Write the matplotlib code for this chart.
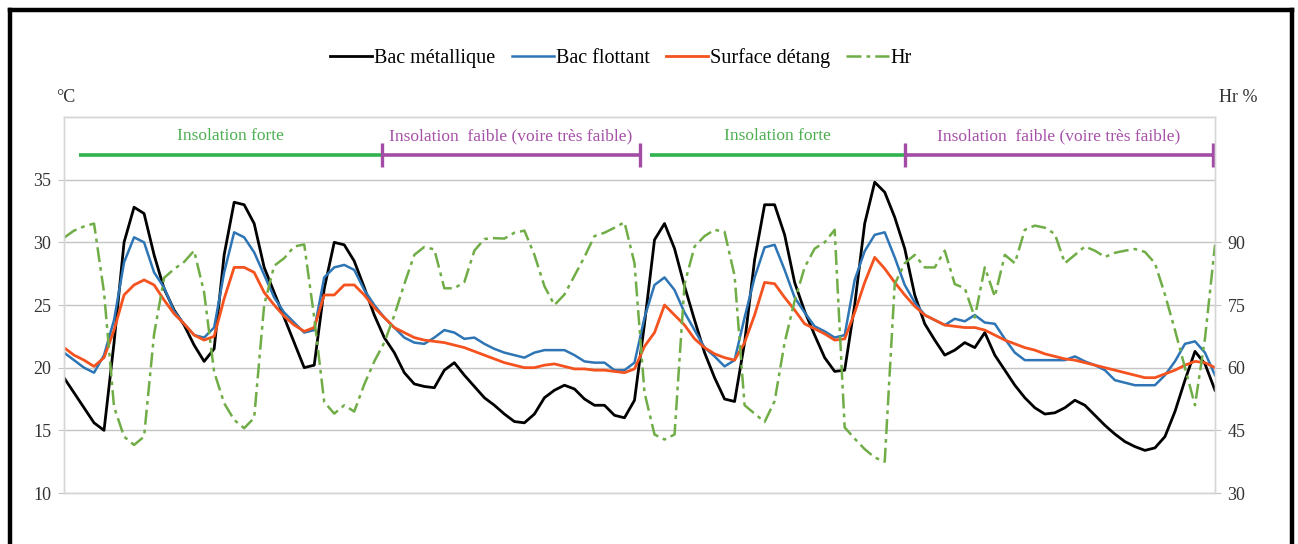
import numpy as np
import matplotlib
matplotlib.use("Agg")
import matplotlib.pyplot as plt
from matplotlib.lines import Line2D

plt.rcParams["font.family"] = ["Liberation Serif", "DejaVu Serif"]

# --- series, one sample every ~2.3 h (no x labels on the original) ---
bac_metal = [
    19.2, 18.0, 16.8, 15.6, 15.0, 22.0, 30.0, 32.8, 32.3, 29.0,
    26.3, 24.6, 23.4, 21.8, 20.5, 21.5, 29.0, 33.2, 33.0, 31.5,
    28.0, 26.0, 24.0, 22.0, 20.0, 20.2, 26.3, 30.0, 29.8, 28.5,
    26.4, 24.2, 22.4, 21.2, 19.6, 18.7, 18.5, 18.4, 19.8, 20.4,
    19.4, 18.5, 17.6, 17.0, 16.3, 15.7, 15.6, 16.3, 17.6, 18.2,
    18.6, 18.3, 17.5, 17.0, 17.0, 16.2, 16.0, 17.4, 23.5, 30.2,
    31.5, 29.5, 26.5, 23.8, 21.2, 19.2, 17.5, 17.3, 22.0, 28.6,
    33.0, 33.0, 30.6, 26.8, 24.5, 22.6, 20.8, 19.7, 19.8, 25.0,
    31.5, 34.8, 34.0, 32.0, 29.5, 25.8, 23.5, 22.2, 21.0, 21.4,
    22.0, 21.6, 22.8, 21.0, 19.8, 18.6, 17.6, 16.8, 16.3, 16.4,
    16.8, 17.4, 17.0, 16.2, 15.4, 14.7, 14.1, 13.7, 13.4, 13.6,
    14.5, 16.5, 19.0, 21.3, 20.3, 18.2,
]
bac_flottant = [
    21.2, 20.6, 20.0, 19.6, 21.0, 23.8, 28.4, 30.4, 30.0, 27.6,
    26.4, 24.5, 23.5, 22.6, 22.4, 23.2, 27.6, 30.8, 30.4, 29.2,
    27.4, 25.6, 24.4, 23.6, 22.8, 23.0, 27.2, 28.0, 28.2, 27.8,
    26.2, 25.0, 24.0, 23.2, 22.4, 22.0, 21.9, 22.4, 23.0, 22.8,
    22.3, 22.4, 21.9, 21.5, 21.2, 21.0, 20.8, 21.2, 21.4, 21.4,
    21.4, 21.0, 20.5, 20.4, 20.4, 19.8, 19.8, 20.4, 24.0, 26.6,
    27.2, 26.2, 24.4, 23.0, 21.6, 20.9, 20.1, 20.6, 24.0, 27.2,
    29.6, 29.8, 27.8, 25.6, 24.4, 23.3, 22.9, 22.4, 22.6, 27.0,
    29.3, 30.6, 30.8, 28.8, 26.6, 25.2, 24.2, 23.8, 23.4, 23.9,
    23.7, 24.2, 23.6, 23.5, 22.3, 21.2, 20.6, 20.6, 20.6, 20.6,
    20.6, 20.9, 20.5, 20.2, 19.8, 19.0, 18.8, 18.6, 18.6, 18.6,
    19.4, 20.5, 21.9, 22.1, 21.2, 19.4,
]
surface_etang = [
    21.6, 21.0, 20.6, 20.1, 20.8, 23.0, 25.8, 26.6, 27.0, 26.6,
    25.4, 24.3, 23.5, 22.6, 22.2, 22.5, 25.5, 28.0, 28.0, 27.6,
    26.0, 25.0, 24.1, 23.4, 22.9, 23.2, 25.8, 25.8, 26.6, 26.6,
    25.8, 24.8, 24.0, 23.2, 22.8, 22.4, 22.2, 22.1, 22.0, 21.8,
    21.6, 21.3, 21.0, 20.7, 20.4, 20.2, 20.0, 20.0, 20.2, 20.3,
    20.1, 19.9, 19.9, 19.8, 19.8, 19.7, 19.6, 19.9, 21.7, 22.8,
    25.0, 24.2, 23.4, 22.3, 21.6, 21.1, 20.8, 20.6, 22.0, 24.2,
    26.8, 26.7, 25.6, 24.6, 23.5, 23.1, 22.7, 22.2, 22.3, 24.4,
    26.8, 28.8, 27.9, 26.8, 25.8, 24.9, 24.2, 23.8, 23.4, 23.3,
    23.2, 23.2, 23.0, 22.6, 22.2, 21.9, 21.6, 21.4, 21.1, 20.9,
    20.7, 20.6, 20.4, 20.2, 20.0, 19.8, 19.6, 19.4, 19.2, 19.2,
    19.5, 19.8, 20.2, 20.5, 20.4, 20.0,
]
hr = [
    91.1, 92.8, 93.8, 94.5, 78.0, 50.6, 43.5, 41.5, 43.5, 68.0,
    81.5, 83.6, 85.3, 88.0, 78.0, 59.0, 51.5, 47.5, 45.5, 48.0,
    75.0, 84.4, 86.2, 89.0, 89.5, 72.0, 51.8, 49.0, 51.0, 49.5,
    56.0, 61.5, 66.0, 72.5, 80.0, 87.0, 88.9, 88.3, 79.0, 79.0,
    80.5, 88.0, 90.8, 91.0, 90.9, 92.3, 92.8, 87.0, 79.5, 75.0,
    77.5, 82.0, 86.5, 91.5, 92.3, 93.5, 94.8, 85.0, 54.0, 44.0,
    42.8, 44.0, 80.0, 89.0, 91.5, 93.0, 92.5, 82.0, 51.0, 49.0,
    47.0, 52.0, 66.0, 76.0, 84.0, 88.5, 90.0, 93.0, 45.7, 43.0,
    40.5, 38.5, 37.5, 80.0, 85.0, 87.0, 84.0, 84.0, 88.0, 80.0,
    79.0, 72.0, 84.0, 77.0, 87.0, 85.0, 93.0, 94.0, 93.5, 92.0,
    85.0, 87.0, 89.0, 88.0, 86.5, 87.5, 88.0, 88.4, 87.7, 85.0,
    77.5, 69.0, 60.0, 51.0, 67.0, 89.4,
]

# insolation periods (sample index)
period_labels = ["Insolation forte", "Insolation  faible (voire très faible)",
                 "Insolation forte", "Insolation  faible (voire très faible)"]
period_start = [1.5, 31.8, 58.5, 84.0]
period_end = [31.8, 57.5, 84.0, 114.8]
period_kind = ["forte", "faible", "forte", "faible"]

t_ticks = [10, 15, 20, 25, 30, 35]
hr_ticks = [30, 45, 60, 75, 90]

C_BLACK, C_BLUE, C_ORANGE, C_HR = "#000000", "#2e75b6", "#f4521f", "#70ad47"
C_FORTE, C_FAIBLE = "#2fb34f", "#a24ca6"
GRID = "#c4c4c4"

x = np.arange(len(bac_metal))

fig = plt.figure(figsize=(12.98, 5.44), dpi=100)
ax = fig.add_axes([64 / 1298, 1 - 493 / 544, 1151 / 1298, 376 / 544])
ax2 = ax.twinx()

l1, = ax.plot(x, bac_metal, color=C_BLACK, lw=2.0, label="Bac métallique")
l2, = ax.plot(x, bac_flottant, color=C_BLUE, lw=1.8, label="Bac flottant")
l3, = ax.plot(x, surface_etang, color=C_ORANGE, lw=2.0, label="Surface détang")
l4, = ax2.plot(x, hr, color=C_HR, lw=1.8, ls=(0, (6, 2, 1.5, 2)), label="Hr")

ax.set_xlim(0, len(x) - 1)
ax.set_ylim(10, 40)
ax2.set_ylim(30, 120)
ax.set_yticks(t_ticks)
ax2.set_yticks(hr_ticks)
ax.set_xticks([])
ax.yaxis.grid(True, color=GRID, lw=1.0)
for a in (ax, ax2):
    for s in a.spines.values():
        s.set_color("#d6d6d6")
        s.set_linewidth(1.0)
    a.tick_params(axis="y", length=4, width=0.8, color=GRID, labelsize=13,
                  labelcolor="#333333", pad=5)

# insolation bars
for lab, s, e, kind in zip(period_labels, period_start, period_end, period_kind):
    col = C_FORTE if kind == "forte" else C_FAIBLE
    ax.plot([s, e], [37.0, 37.0], color=col, lw=2.6, solid_capstyle="butt", clip_on=False)
    if kind == "faible":
        ax.vlines([s, e], 36.05, 37.95, color=col, lw=2.4)
    tcol = "#4caf50" if kind == "forte" else "#a650a8"
    ax.text((s + e) / 2, 38.45, lab, color=tcol, fontsize=12.5, ha="center", va="center")

fig.text(66 / 1298, 1 - 97 / 544, "°C", fontsize=13, ha="center", va="center", color="#333333")
fig.text(1238 / 1298, 1 - 97 / 544, "Hr %", fontsize=13, ha="center", va="center", color="#333333")

fig.legend(handles=[l1, l2, l3, l4], loc="center", bbox_to_anchor=(621 / 1298, 1 - 58 / 544),
           ncol=4, frameon=False, fontsize=14.5, handlelength=2.1, handletextpad=0.1,
           columnspacing=0.8)

# black outer frame (open at the bottom)
fx0, fx1, fy1 = 10 / 1298, 1292 / 1298, 1 - 10 / 544
for xs, ys in [([fx0, fx0], [0, fy1]), ([fx0, fx1], [fy1, fy1]), ([fx1, fx1], [fy1, 0])]:
    fig.add_artist(Line2D(xs, ys, transform=fig.transFigure, color="black", lw=3.2))

fig.savefig("out.png", dpi=100)
